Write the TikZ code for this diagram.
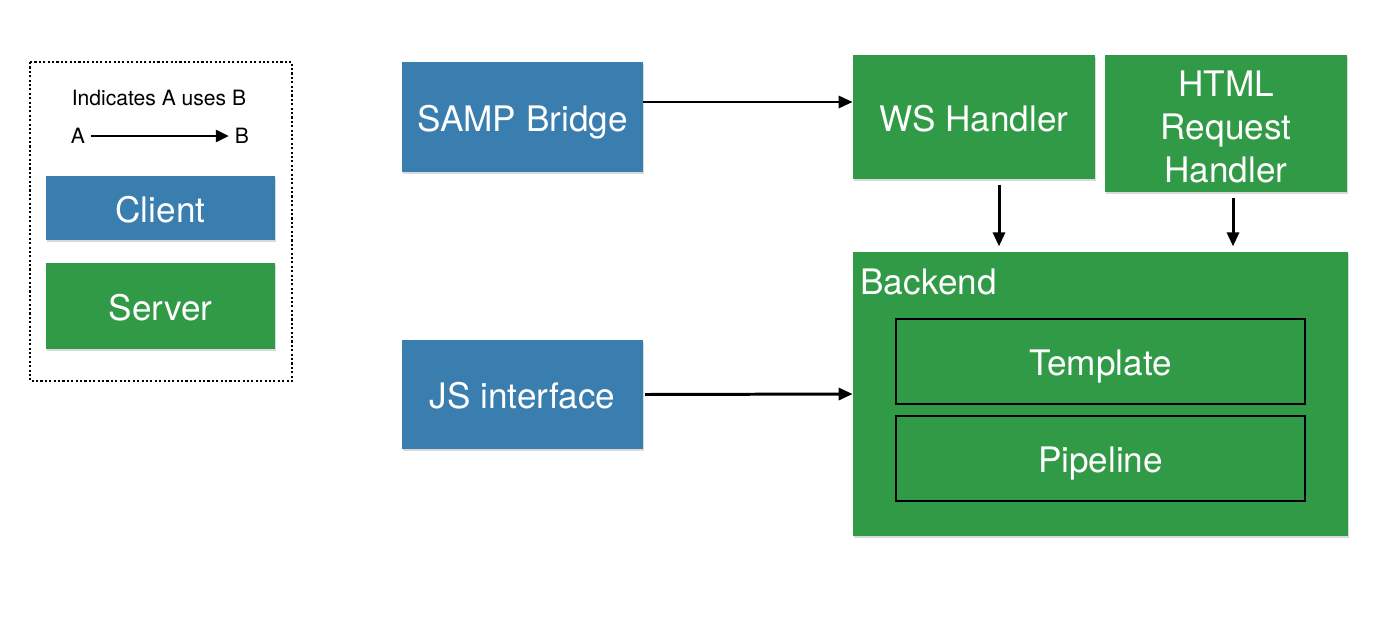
\documentclass[tikz,border=0pt]{standalone}
\usepackage{fontspec}
\setmainfont{TeX Gyre Heros}
\usetikzlibrary{arrows.meta,positioning,shadows}
\definecolor{clientblue}{HTML}{3A7EB0}
\definecolor{servergreen}{HTML}{319A47}

\tikzset{
  block/.style={inner sep=0pt, text=white, align=center,
    font=\fontsize{20}{24.4}\selectfont,
    drop shadow={opacity=0.3, shadow xshift=0.4pt, shadow yshift=-1.4pt}},
  oneline/.style={text height=16pt, text depth=0pt},
  client/.style={block, oneline, fill=clientblue},
  server/.style={block, fill=servergreen},
  part/.style={draw=black, line width=1.6pt, inner sep=0pt, text=white, oneline,
    font=\fontsize{20}{24.4}\selectfont, minimum width=8.18cm, minimum height=1.7cm},
  uses/.style={-{Triangle[length=0.28cm, width=0.24cm]}, line width=1.7pt},
  legendtext/.style={font=\fontsize{12}{14}\selectfont, text=black}
}

\begin{document}
\begin{tikzpicture}
\useasboundingbox (0,0) rectangle (27.84,-12.52);

% legend
\draw[line width=1pt, dash pattern=on 1.2pt off 1.3pt] (0.6,-1.24) rectangle (5.84,-7.62);
\node[legendtext] (note) at (3.18,-1.96) {Indicates A uses B};
\node[legendtext] (a) at (1.56,-2.72) {A};
\node[legendtext] (b) at (4.84,-2.72) {B};
\draw[uses, -{Triangle[length=0.26cm, width=0.24cm]}] (a) -- (b);
\node[client, minimum width=4.58cm, minimum height=1.28cm] (client) at (3.21,-4.16) {Client};
\node[server, oneline, minimum width=4.58cm, minimum height=1.72cm] (server) at (3.21,-6.12) {Server};

% clients
\node[client, minimum width=4.82cm, minimum height=2.2cm] (samp) at (10.45,-2.34) {SAMP Bridge};
\node[client, minimum width=4.82cm, minimum height=2.18cm] (js) at (10.45,-7.89) {JS interface};

% server side
\node[server, oneline, minimum width=4.84cm, minimum height=2.48cm] (ws) at (19.48,-2.34) {WS Handler};
\node[server, minimum width=4.84cm, minimum height=2.74cm] (html) at (24.52,-2.47) {\rule{0pt}{0.66cm}HTML\\Request\\Handler};
\node[server, minimum width=9.9cm, minimum height=5.68cm] (backend) at (22.01,-7.88) {};
\node[anchor=base west, inner sep=0pt, text=white, font=\fontsize{20}{24.4}\selectfont] (backendlabel) at (17.2,-5.88) {Backend};
\node[part] (template) at (22.01,-7.23) {Template};
\node[part] (pipeline) at (22.01,-9.17) {Pipeline};

% uses
\draw[uses] ([yshift=0.3cm]samp.east) -- ([yshift=0.3cm]ws.west);
\draw[uses, shorten <=1pt] (js.east) -- (backend.west);
\draw[uses, shorten <=3pt, shorten >=3pt] ([xshift=0.5cm]ws.south) -- ([xshift=0.5cm]ws.south |- backend.north);
\draw[uses, shorten <=3pt, shorten >=3pt] ([xshift=0.14cm]html.south) -- ([xshift=0.14cm]html.south |- backend.north);
\end{tikzpicture}
\end{document}
